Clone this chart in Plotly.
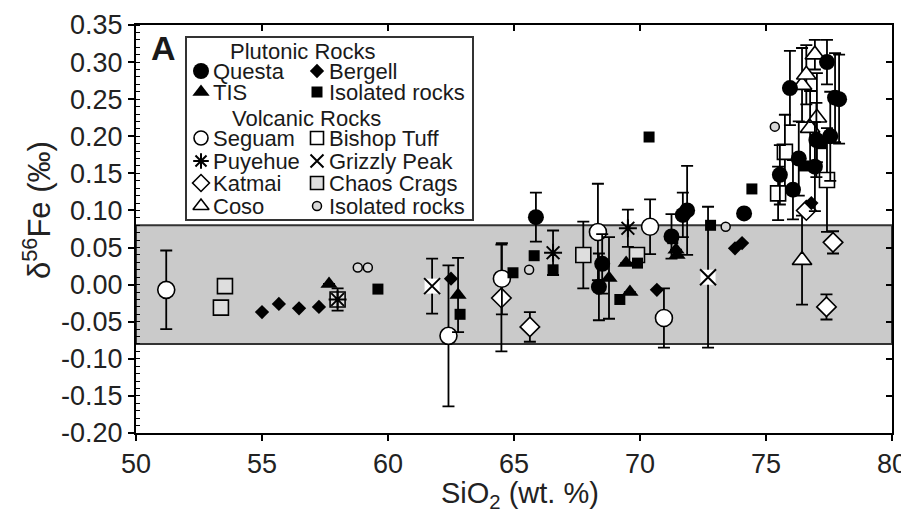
import plotly.graph_objects as go

# ---------------- data ----------------
questa_x = [65.87, 68.5, 68.37, 71.87, 71.7, 71.25, 74.13, 77.42, 75.95, 77.74, 77.9, 75.55, 76.07, 76.94, 76.3, 77.0, 77.55]
questa_y = [0.091, 0.028, -0.003, 0.100, 0.094, 0.065, 0.096, 0.300, 0.265, 0.252, 0.25, 0.148, 0.128, 0.159, 0.170, 0.195, 0.20]
questa_e = [0.033, 0.04, 0.045, 0.06, 0.03, 0.03, 0.0, 0.03, 0.05, 0.06, 0.06, 0.04, 0.04, 0.06, 0.05, 0.05, 0.06]

bergell_x = [55.0, 55.67, 56.47, 57.26, 62.5, 70.67, 73.77, 74.05, 76.8]
bergell_y = [-0.037, -0.026, -0.032, -0.030, 0.008, -0.007, 0.049, 0.056, 0.11]

tis_x = [57.66, 62.78, 68.77, 69.6, 69.45, 71.43, 71.47]
tis_y = [0.001, -0.014, 0.009, -0.010, 0.029, 0.047, 0.040]
tis_e = [0.0, 0.05, 0.055, 0.0, 0.0, 0.0, 0.0]

plut_iso_x = [59.6, 62.86, 64.96, 65.8, 66.55, 70.36, 69.2, 69.9, 71.3, 72.8, 74.44, 76.5, 77.2]
plut_iso_y = [-0.006, -0.040, 0.016, 0.039, 0.020, 0.199, -0.020, 0.029, 0.062, 0.080, 0.129, 0.160, 0.190]

seguam_x = [51.2, 62.4, 64.52, 68.33, 70.4, 70.95]
seguam_y = [-0.007, -0.069, 0.008, 0.071, 0.078, -0.045]
seguam_e = [0.053, 0.095, 0.048, 0.065, 0.037, 0.04]

puyehue_x = [58.0, 66.55, 69.52]
puyehue_y = [-0.020, 0.043, 0.076]
puyehue_e = [0.015, 0.03, 0.025]

katmai_x = [64.5, 65.63, 76.6, 77.66, 77.4]
katmai_y = [-0.018, -0.057, 0.100, 0.057, -0.030]
katmai_e = [0.072, 0.02, 0.0, 0.015, 0.017]

coso_x = [76.94, 76.43, 76.6, 77.02, 76.75, 76.43]
coso_y = [0.310, 0.269, 0.283, 0.225, 0.211, 0.033]
coso_e = [0.02, 0.05, 0.04, 0.06, 0.05, 0.06]

bishop_x = [75.75, 75.48, 77.42]
bishop_y = [0.179, 0.123, 0.141]
bishop_e = [0.05, 0.036, 0.07]

grizzly_x = [61.75, 72.7]
grizzly_y = [-0.002, 0.010]
grizzly_e = [0.037, 0.095]

chaos_x = [53.53, 53.37, 58.0, 67.75, 69.88]
chaos_y = [-0.002, -0.031, -0.020, 0.040, 0.040]
chaos_e = [0.0, 0.0, 0.0, 0.045, 0.0]

volc_iso_x = [58.8, 59.2, 65.6, 73.4, 75.35]
volc_iso_y = [0.023, 0.023, 0.020, 0.078, 0.213]

band_lo, band_hi = -0.08, 0.08

y_tick_vals = [-0.20, -0.15, -0.10, -0.05, 0.00, 0.05, 0.10, 0.15, 0.20, 0.25, 0.30, 0.35]
y_tick_text = ["-0.20", "-0.15", "-0.10", "-0.05", "0.00", "0.05", "0.10", "0.15", "0.20", "0.25", "0.30", "0.35"]
x_tick_vals = [50, 55, 60, 65, 70, 75, 80]

FONT = "Liberation Sans, Arial, sans-serif"
BLK = "black"
TXT = "#1a1a1a"

# The page body has an 8 px margin: figure is sized/offset so the plot area
# lands at page pixels x 136..892, y 25..433.
OFF = 8
W, H = 909 - OFF, 512 - OFF
ML, MR, MT, MB = 136 - OFF, 17, 25 - OFF, 79
PW, PH = W - ML - MR, H - MT - MB

fig = go.Figure()


def err(arr):
    return dict(type="data", array=arr, visible=True, color=BLK, thickness=1.8, width=6)


def add(x, y, symbol, size, fill, e=None, lw=1.6, xa="x", ya="y"):
    fig.add_trace(go.Scatter(
        x=x, y=y, mode="markers", xaxis=xa, yaxis=ya,
        marker=dict(symbol=symbol, size=size, color=fill, line=dict(color=BLK, width=lw)),
        error_y=err(e) if e is not None else None,
        showlegend=False, hoverinfo="skip"))


def add_grizzly(x, y, e=None, size=16, xa="x", ya="y"):
    fig.add_trace(go.Scatter(
        x=x, y=y, mode="markers", xaxis=xa, yaxis=ya,
        marker=dict(symbol="square", size=size - 1, color="white", line=dict(width=0)),
        error_y=err(e) if e is not None else None,
        showlegend=False, hoverinfo="skip"))
    fig.add_trace(go.Scatter(
        x=x, y=y, mode="markers", xaxis=xa, yaxis=ya,
        marker=dict(symbol="x-thin-open", size=size, color=BLK, line=dict(color=BLK, width=2)),
        showlegend=False, hoverinfo="skip"))


# data series
add(bishop_x, bishop_y, "square", 15, "white", bishop_e)
add(chaos_x, chaos_y, "square", 15, "#dedede", chaos_e)
add(coso_x, coso_y, "triangle-up", 17, "white", coso_e)
add(katmai_x, katmai_y, "diamond", 15, "white", katmai_e)
add_grizzly(grizzly_x, grizzly_y, grizzly_e)
add(puyehue_x, puyehue_y, "asterisk-open", 15, BLK, puyehue_e, lw=2)
add(seguam_x, seguam_y, "circle", 17, "white", seguam_e)
add(volc_iso_x, volc_iso_y, "circle", 9, "#d8d8d8", lw=1.5)
add(plut_iso_x, plut_iso_y, "square", 11, BLK, lw=0)
add(tis_x, tis_y, "triangle-up", 15, BLK, tis_e, lw=0)
add(bergell_x, bergell_y, "diamond", 11, BLK, lw=0)
add(questa_x, questa_y, "circle", 16, BLK, questa_e, lw=0)

# ---------- legend (drawn on a page-pixel overlay axis) ----------
L = "x3"
LY = "y3"
c1m, c1t = 201, 211
c2m, c2t = 317, 327
rows = {"r1": 71, "r2": 92, "v1": 138, "v2": 161, "v3": 183, "v4": 206}
add([c1m], [rows["r1"]], "circle", 16, BLK, lw=0, xa=L, ya=LY)
add([c2m], [rows["r1"]], "diamond", 11, BLK, lw=0, xa=L, ya=LY)
add([c1m], [rows["r2"]], "triangle-up", 15, BLK, lw=0, xa=L, ya=LY)
add([c2m], [rows["r2"]], "square", 11, BLK, lw=0, xa=L, ya=LY)
add([c1m], [rows["v1"]], "circle", 14, "white", xa=L, ya=LY)
add([c2m], [rows["v1"]], "square", 13, "white", xa=L, ya=LY)
add([c1m], [rows["v2"]], "asterisk-open", 13, BLK, lw=2, xa=L, ya=LY)
fig.add_trace(go.Scatter(x=[c2m], y=[rows["v2"]], mode="markers", xaxis=L, yaxis=LY,
                         marker=dict(symbol="x-thin-open", size=13, color=BLK, line=dict(color=BLK, width=2)),
                         showlegend=False, hoverinfo="skip"))
add([c1m], [rows["v3"]], "diamond", 13, "white", xa=L, ya=LY)
add([c2m], [rows["v3"]], "square", 13, "#dedede", xa=L, ya=LY)
add([c1m], [rows["v4"]], "triangle-up", 14, "white", xa=L, ya=LY)
add([c2m], [rows["v4"]], "circle", 9, "#d8d8d8", lw=1.5, xa=L, ya=LY)

legend_text = [
    (c1t, rows["r1"], "Questa"), (c2t, rows["r1"], "Bergell"),
    (c1t, rows["r2"], "TIS"), (c2t, rows["r2"], "Isolated rocks"),
    (c1t, rows["v1"], "Seguam"), (c2t, rows["v1"], "Bishop Tuff"),
    (c1t, rows["v2"], "Puyehue"), (c2t, rows["v2"], "Grizzly Peak"),
    (c1t, rows["v3"], "Katmai"), (c2t, rows["v3"], "Chaos Crags"),
    (c1t, rows["v4"], "Coso"), (c2t, rows["v4"], "Isolated rocks"),
]
annotations = []
for tx, ty, t in legend_text:
    annotations.append(dict(x=tx, y=ty, xref=L, yref=LY, text=t, showarrow=False,
                            xanchor="left", yanchor="middle",
                            font=dict(family=FONT, size=22, color=TXT)))
annotations.append(dict(x=303, y=51, xref=L, yref=LY, text="Plutonic Rocks", showarrow=False,
                        xanchor="center", yanchor="middle", font=dict(family=FONT, size=22, color=TXT)))
annotations.append(dict(x=306, y=118, xref=L, yref=LY, text="Volcanic Rocks", showarrow=False,
                        xanchor="center", yanchor="middle", font=dict(family=FONT, size=22, color=TXT)))
annotations.append(dict(x=163, y=48, xref=L, yref=LY, text="<b>A</b>", showarrow=False,
                        xanchor="center", yanchor="middle", font=dict(family=FONT, size=34, color=TXT)))


def px_to_paper(px, py):
    return ((px - OFF - ML) / PW, (H - MB - (py - OFF)) / PH)


ytx, yty = px_to_paper(37, 210)
annotations.append(dict(x=ytx, y=yty, xref="paper", yref="paper", text="δ<sup>56</sup>Fe (‰)",
                        textangle=-90, showarrow=False, xanchor="center", yanchor="middle",
                        font=dict(family=FONT, size=31, color="#222")))
xtx, xty = px_to_paper(520, 495)
annotations.append(dict(x=xtx, y=xty, xref="paper", yref="paper", text="SiO<sub>2</sub> (wt. %)",
                        showarrow=False, xanchor="center", yanchor="middle",
                        font=dict(family=FONT, size=29, color="#222")))

shapes = [
    dict(type="rect", xref="paper", yref="y", x0=0, x1=1, y0=band_lo, y1=band_hi,
         fillcolor="#cacaca", line=dict(color="#333", width=2), layer="below"),
    dict(type="rect", xref=L, yref=LY, x0=186, x1=473, y0=37, y1=220,
         fillcolor="white", line=dict(color="#333", width=2), layer="below"),
]

axis_common = dict(showgrid=False, zeroline=False, showline=True, linecolor=BLK, linewidth=2,
                   tickcolor=BLK, tickwidth=1.5, automargin=False)

fig.update_layout(
    width=W, height=H,
    margin=dict(l=ML, r=MR, t=MT, b=MB, autoexpand=False),
    plot_bgcolor="white", paper_bgcolor="white",
    font=dict(family=FONT, color="#222"),
    xaxis=dict(range=[50, 80], tickvals=x_tick_vals, ticks="outside", ticklen=6,
               tickfont=dict(size=27, family=FONT, color="#222"),
               **axis_common),
    yaxis=dict(range=[-0.2, 0.35], tickvals=y_tick_vals, ticktext=y_tick_text, ticks="outside", ticklen=6,
               tickfont=dict(size=27, family=FONT, color="#222"),
               minor=dict(dtick=0.01, tick0=0, ticks="inside", ticklen=4, tickcolor=BLK, tickwidth=1),
               **axis_common),
    xaxis2=dict(range=[50, 80], overlaying="x", side="top", tickvals=x_tick_vals, ticks="inside",
                ticklen=6, showticklabels=False, anchor="y", **axis_common),
    yaxis2=dict(range=[-0.2, 0.35], overlaying="y", side="right", tickvals=y_tick_vals, ticks="inside",
                ticklen=6, showticklabels=False, anchor="x", **axis_common),
    xaxis3=dict(range=[136, 892], overlaying="x", visible=False, anchor="y3", automargin=False),
    yaxis3=dict(range=[433, 25], overlaying="y", visible=False, anchor="x3", automargin=False),
    shapes=shapes,
    annotations=annotations,
    showlegend=False,
)

# dummy trace so xaxis2/yaxis2 are rendered
fig.add_trace(go.Scatter(x=[None], y=[None], xaxis="x2", yaxis="y2", showlegend=False, hoverinfo="skip"))

fig.write_html("out.html")
